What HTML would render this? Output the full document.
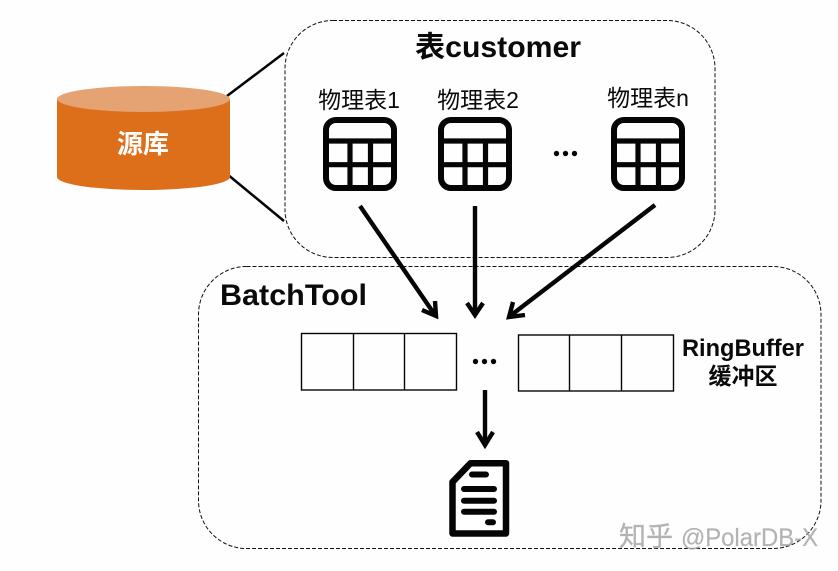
<!DOCTYPE html>
<html><head><meta charset="utf-8"><style>
html,body{margin:0;padding:0;background:#fefefe}
svg{display:block}
text{font-family:"Liberation Sans","Noto Sans CJK SC",sans-serif;fill:#0a0a0a}
</style></head><body>
<svg width="838" height="571" viewBox="0 0 838 571" xmlns="http://www.w3.org/2000/svg">
<defs>
<g id="tbl" fill="none" stroke="#050505">
<rect x="3" y="3" width="68" height="68" rx="10" stroke-width="6"/>
<path d="M3 24H71M3 47.7H71M27 24V71M47.5 24V71" stroke-width="5.2"/>
</g>
</defs>
<rect x="285" y="20.5" width="430" height="237" rx="48" fill="none" stroke="#111" stroke-width="1" stroke-dasharray="4 2"/>
<rect x="198.5" y="266.5" width="622.5" height="282" rx="48" fill="none" stroke="#111" stroke-width="1" stroke-dasharray="4 2"/>

<path d="M227 96L284 53M227 174L284 221" stroke="#050505" stroke-width="2.5" fill="none"/>
<path d="M57 99V177A86.5 13 0 0 0 230 177V99Z" fill="#dd6f1b"/>
<ellipse cx="143.5" cy="99" rx="86.5" ry="13" fill="#e5a272"/>
<text x="143" y="153" text-anchor="middle" font-size="26" font-weight="bold" style="fill:#fff">源库</text>

<text x="415" y="57" font-size="29.5" font-weight="bold" textLength="166" lengthAdjust="spacingAndGlyphs">表customer</text>
<text x="359" y="108" text-anchor="middle" font-size="23">物理表1</text>
<text x="478" y="108" text-anchor="middle" font-size="23">物理表2</text>
<text x="648" y="106" text-anchor="middle" font-size="23">物理表n</text>

<use href="#tbl" x="323" y="117"/>
<use href="#tbl" x="438" y="117"/>
<use href="#tbl" x="611" y="117"/>

<g fill="#050505">
<circle cx="556.5" cy="153.5" r="2.7"/><circle cx="565.5" cy="153.5" r="2.7"/><circle cx="574.5" cy="153.5" r="2.7"/>
<circle cx="475.5" cy="361.5" r="2.7"/><circle cx="484.5" cy="361.5" r="2.7"/><circle cx="493.5" cy="361.5" r="2.7"/>
</g>

<g fill="none" stroke="#050505" stroke-width="4.4">
<path d="M360 206L435 315"/>
<path d="M422 310L436 316L435 301"/>
<path d="M475 206V315"/>
<path d="M467 303L475 315L483 303"/>
<path d="M655 205L510 316"/>
<path d="M513 302L509 317L525 315"/>
<path d="M485 390V445"/>
<path d="M477 432L485 445L493 432"/>
</g>

<text x="220" y="305" font-size="30" font-weight="bold" textLength="147" lengthAdjust="spacingAndGlyphs">BatchTool</text>

<g fill="none" stroke="#050505" stroke-width="1.4">
<rect x="301.5" y="333.5" width="155" height="56.5"/>
<path d="M353.5 333.5V390M404.5 333.5V390"/>
<rect x="518.5" y="335" width="155" height="56"/>
<path d="M569.5 335V391M621.5 335V391"/>
</g>

<text x="743" y="356" text-anchor="middle" font-size="24" font-weight="bold" textLength="122" lengthAdjust="spacingAndGlyphs">RingBuffer</text>
<text x="743" y="384" text-anchor="middle" font-size="23" font-weight="bold">缓冲区</text>

<path d="M452.5 482L470.5 463.2H506V533.5H452.5Z" fill="#fff" stroke="#050505" stroke-width="6.5" stroke-linejoin="round"/>
<g stroke="#050505" stroke-width="6" stroke-linecap="round">
<path d="M472 474.5H486M464 489H494M464 500.7H494M464 511.7H494M488 522.3H493"/>
</g>

<text x="619" y="546" font-size="27" style="fill:#a6a6a6" stroke="#a6a6a6" stroke-width="0.3" opacity="0.85">知乎</text>
<text x="681" y="546" font-size="25" style="fill:#a6a6a6" stroke="#a6a6a6" stroke-width="0.2" opacity="0.85" textLength="137" lengthAdjust="spacingAndGlyphs">@PolarDB-X</text>
</svg>
</body></html>
